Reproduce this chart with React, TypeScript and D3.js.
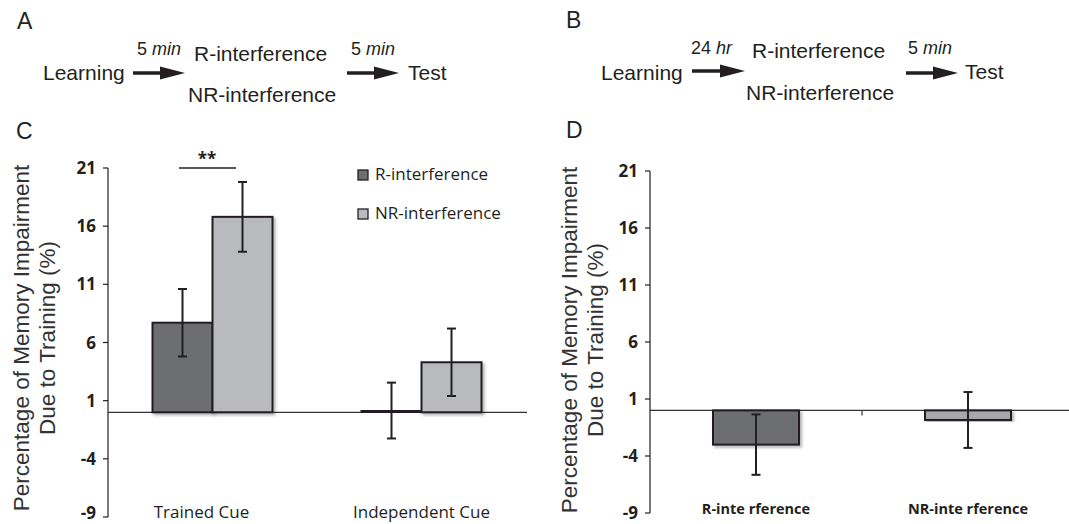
import React from "react";
import * as d3 from "d3";

// ---------- data ----------
const cueCategories = ["Trained Cue", "Independent Cue"];
const seriesNames = ["R-interference", "NR-interference"];
const cMeansR = [7.7, 0.15];
const cErrR = [2.9, 2.4];
const cMeansNR = [16.8, 4.3];
const cErrNR = [3.0, 2.9];

const dCategories = ["R-inte rference", "NR-inte rference"];
const dMeans = [-3.0, -0.84];
const dErr = [2.65, 2.45];

const yTicks = [-9, -4, 1, 6, 11, 16, 21];

// ---------- style ----------
const INK = "#231f20";
const DARK = "#6d6e71";
const LIGHT = "#b9babd";
const LIGHT_D = "#a7a8ab";
const HELV = "'Liberation Sans', Arial, sans-serif";
const CAL = "'Open Sans', 'Noto Sans', sans-serif";

function Arrow({ x1, x2, y }: { x1: number; x2: number; y: number }) {
  const head = 25;
  return (
    <g>
      <line x1={x1} x2={x2 - head + 2} y1={y} y2={y} stroke={INK} strokeWidth={3.5} />
      <path d={`M${x2 - head},${y - 6.5}L${x2},${y}L${x2 - head},${y + 6.5}Z`} fill={INK} />
    </g>
  );
}

function MinLabel({ x, y, num, unit }: { x: number; y: number; num: string; unit: string }) {
  return (
    <text x={x} y={y} fontFamily={HELV} fontSize={18} fill={INK}>
      {num} <tspan fontStyle="italic">{unit}</tspan>
    </text>
  );
}

function YAxis({ scale, x }: { scale: d3.ScaleLinear<number, number>; x: number }) {
  const [r0, r1] = scale.range();
  return (
    <g>
      <line x1={x} x2={x} y1={r0} y2={r1} stroke={INK} strokeWidth={1.2} />
      {yTicks.map((t) => {
        const yy = scale(t);
        const baseline = Math.min(yy + 6, 519);
        return (
          <g key={t}>
            <line x1={x - 5} x2={x} y1={yy} y2={yy} stroke={INK} strokeWidth={1.2} />
            <text
              x={x - 12}
              y={baseline}
              textAnchor="end"
              fontFamily={CAL}
              fontWeight="bold"
              fontSize={17}
              fill={INK}
            >
              {t}
            </text>
          </g>
        );
      })}
    </g>
  );
}

function YTitle({ x1, x2, cy }: { x1: number; x2: number; cy: number }) {
  return (
    <g fontFamily={HELV} fontSize={22.5} fill="#333" textAnchor="middle">
      <text transform={`translate(${x1},${cy}) rotate(-90)`}>Percentage of Memory Impairment</text>
      <text transform={`translate(${x2},${cy}) rotate(-90)`}>Due to Training (%)</text>
    </g>
  );
}

function ErrorBar({ x, y1, y2 }: { x: number; y1: number; y2: number }) {
  const cap = 4.5;
  return (
    <g stroke={INK} strokeWidth={2}>
      <line x1={x} x2={x} y1={y1} y2={y2} />
      <line x1={x - cap} x2={x + cap} y1={y1} y2={y1} />
      <line x1={x - cap} x2={x + cap} y1={y2} y2={y2} />
    </g>
  );
}

export default function App() {
  // panel C scales
  const yC = d3.scaleLinear().domain([-9, 21]).range([517, 168]);
  const x0C = d3.scaleBand().domain(cueCategories).range([108, 526]);
  const groupW = 120;
  const x1C = d3.scaleBand().domain(seriesNames).range([0, groupW]);

  // panel D scales
  const yD = d3.scaleLinear().domain([-9, 21]).range([513, 171]);
  const xD = d3.scaleBand().domain(dCategories).range([650, 1074]);
  const barWD = 86;

  const cSeries = [
    { name: seriesNames[0], means: cMeansR, errs: cErrR, fill: DARK },
    { name: seriesNames[1], means: cMeansNR, errs: cErrNR, fill: LIGHT },
  ];
  const dFills = [DARK, LIGHT_D];

  const barRect = (y: d3.ScaleLinear<number, number>, v: number) => {
    const a = y(0);
    const b = y(v);
    return { y: Math.min(a, b), h: Math.abs(a - b) };
  };

  return (
    <svg
      width={1069}
      height={524}
      style={{ position: "absolute", left: 0, top: 0, background: "#fff" }}
    >
      <defs>
        <filter id="sh" x="-10%" y="-10%" width="130%" height="130%">
          <feDropShadow dx="2" dy="2" stdDeviation="1.5" floodColor="#000" floodOpacity="0.3" />
        </filter>
      </defs>
      <rect width={1069} height={524} fill="#fff" />

      {/* Panel letters */}
      <g fontFamily={HELV} fontSize={23} fill={INK}>
        <text x={17} y={29}>A</text>
        <text x={566} y={28}>B</text>
        <text x={16} y={139}>C</text>
        <text x={566} y={138}>D</text>
      </g>

      {/* Diagram A */}
      <g fontFamily={HELV} fontSize={21} fill={INK}>
        <text x={43} y={80}>Learning</text>
        <text x={194} y={61}>R-interference</text>
        <text x={188} y={102}>NR-interference</text>
        <text x={408} y={80}>Test</text>
      </g>
      <MinLabel x={137} y={55} num="5" unit="min" />
      <MinLabel x={351} y={55} num="5" unit="min" />
      <Arrow x1={133} x2={185} y={73} />
      <Arrow x1={347} x2={399} y={73} />

      {/* Diagram B */}
      <g fontFamily={HELV} fontSize={21} fill={INK}>
        <text x={601} y={80}>Learning</text>
        <text x={752} y={58}>R-interference</text>
        <text x={746} y={100}>NR-interference</text>
        <text x={965} y={79}>Test</text>
      </g>
      <MinLabel x={691} y={54} num="24" unit="hr" />
      <MinLabel x={908} y={54} num="5" unit="min" />
      <Arrow x1={692} x2={745} y={71} />
      <Arrow x1={906} x2={958} y={73} />

      {/* Panel C */}
      <YTitle x1={29} x2={55} cy={338} />
      <YAxis scale={yC} x={108} />
      <line x1={108} x2={527} y1={yC(0)} y2={yC(0)} stroke="#333" strokeWidth={1.2} />
      {cueCategories.map((cat, ci) => {
        const gx = (x0C(cat) as number) + (x0C.bandwidth() - groupW) / 2;
        return (
          <g key={cat}>
            {cSeries.map((s) => {
              const bx = gx + (x1C(s.name) as number);
              const bw = x1C.bandwidth();
              const r = barRect(yC, s.means[ci]);
              return (
                <rect
                  key={s.name}
                  x={bx}
                  y={r.y}
                  width={bw}
                  height={Math.max(r.h, 0.5)}
                  fill={s.fill}
                  stroke={INK}
                  strokeWidth={2}
                  filter="url(#sh)"
                />
              );
            })}
            {cSeries.map((s) => {
              const cx = gx + (x1C(s.name) as number) + x1C.bandwidth() / 2;
              return (
                <ErrorBar
                  key={s.name + "e"}
                  x={cx}
                  y1={yC(s.means[ci] + s.errs[ci])}
                  y2={yC(s.means[ci] - s.errs[ci])}
                />
              );
            })}
            <text
              x={(x0C(cat) as number) + x0C.bandwidth() / 2 - (ci === 0 ? 11 : 0)}
              y={518}
              textAnchor="middle"
              fontFamily={CAL}
              fontSize={17}
              fill={INK}
            >
              {cat}
            </text>
          </g>
        );
      })}
      {/* significance */}
      <line x1={179} x2={236} y1={168} y2={168} stroke={INK} strokeWidth={1.5} />
      <text x={207} y={165} textAnchor="middle" fontFamily={CAL} fontWeight="bold" fontSize={17} fill={INK}>
        **
      </text>
      {/* legend */}
      {cSeries.map((s, i) => (
        <g key={s.name + "L"}>
          <rect x={358} y={170 + i * 39} width={10} height={10} fill={s.fill} stroke={INK} strokeWidth={1.3} />
          <text x={375} y={180 + i * 39} fontFamily={CAL} fontSize={17} fill={INK}>
            {s.name}
          </text>
        </g>
      ))}

      {/* Panel D */}
      <YTitle x1={577} x2={603} cy={340} />
      <YAxis scale={yD} x={650} />
      <line x1={650} x2={1069} y1={yD(0)} y2={yD(0)} stroke="#333" strokeWidth={1.2} />
      <line
        x1={xD(dCategories[1]) as number}
        x2={xD(dCategories[1]) as number}
        y1={yD(0)}
        y2={yD(0) + 5}
        stroke="#333"
        strokeWidth={1.2}
      />
      {dCategories.map((cat, i) => {
        const cx = (xD(cat) as number) + xD.bandwidth() / 2;
        const r = barRect(yD, dMeans[i]);
        return (
          <g key={cat}>
            <rect
              x={cx - barWD / 2}
              y={r.y}
              width={barWD}
              height={r.h}
              fill={dFills[i]}
              stroke={INK}
              strokeWidth={2}
              filter="url(#sh)"
            />
            <ErrorBar x={cx} y1={yD(dMeans[i] + dErr[i])} y2={yD(dMeans[i] - dErr[i])} />
            <text x={cx} y={514} textAnchor="middle" fontFamily={CAL} fontWeight="bold" fontSize={14.5} fill={INK}>
              {cat}
            </text>
          </g>
        );
      })}
    </svg>
  );
}
